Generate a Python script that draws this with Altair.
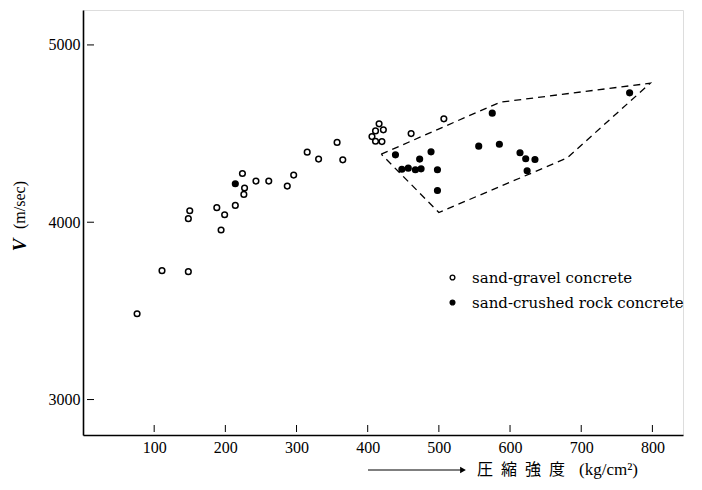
import altair as alt
import pandas as pd

# ---- data ----
gravel_x = [76, 111, 148, 148, 150, 194, 188, 199, 214, 224, 227, 226, 243, 261,
            287, 296, 315, 331, 357, 365, 406, 411, 416, 411, 420, 422, 461, 507]
gravel_v = [3484, 3727, 3721, 4020, 4065, 3956, 4082, 4042, 4095, 4275, 4193, 4157, 4232, 4232,
            4204, 4266, 4395, 4356, 4450, 4352, 4483, 4515, 4555, 4457, 4455, 4521, 4500, 4583]

crushed_x = [214, 439, 448, 457, 467, 475, 473, 489, 498, 498, 556, 575, 585, 614, 622, 635, 624, 768]
crushed_v = [4217, 4380, 4299, 4305, 4296, 4301, 4356, 4397, 4296, 4179, 4429, 4615, 4440, 4392,
             4358, 4354, 4290, 4730]

poly_x = [419, 586, 797, 680, 500, 419]
poly_v = [4384, 4677, 4784, 4362, 4055, 4384]

x_ticks = [100, 200, 300, 400, 500, 600, 700, 800]
y_ticks = [3000, 4000, 5000]

series_names = ["sand-gravel concrete", "sand-crushed rock concrete"]
x_title_chars = ["圧", "縮", "強", "度"]
x_title_unit = "(kg/cm²)"

W, H = 600, 425
SERIF = "Liberation Serif"

pts = pd.DataFrame({
    "x": gravel_x + crushed_x,
    "v": gravel_v + crushed_v,
    "type": [series_names[0]] * len(gravel_x) + [series_names[1]] * len(crushed_x),
})
poly = pd.DataFrame({"x": poly_x, "v": poly_v, "o": list(range(len(poly_x)))})

xs = alt.Scale(domain=[0, 843], nice=False, zero=False)
ys = alt.Scale(domain=[2800, 5197], nice=False, zero=False)

xax = alt.Axis(values=x_ticks, ticks=False, grid=False, labelFont=SERIF, labelFontSize=16, format="d",
               labelColor="black", labelPadding=4, domainColor="black", domainWidth=1.6, title=None)
yax = alt.Axis(values=y_ticks, ticks=False, grid=False, labelFont=SERIF, labelFontSize=16, format="d",
               labelColor="black", labelPadding=3, domainColor="black", domainWidth=1.6, title=None)

points = alt.Chart(pts).mark_point(filled=True, stroke="black", strokeWidth=1.5, size=32, shape="circle", opacity=1).encode(
    x=alt.X("x:Q", scale=xs, axis=xax),
    y=alt.Y("v:Q", scale=ys, axis=yax),
    fill=alt.Fill("type:N", scale=alt.Scale(domain=series_names, range=["white", "black"]),
                  legend=alt.Legend(orient="none", legendX=362, legendY=260, title=None,
                                    labelFont="DejaVu Serif", labelFontSize=15, labelColor="black",
                                    labelLimit=0,
                                    symbolType="circle", symbolSize=22, symbolStrokeColor="black",
                                    symbolStrokeWidth=1.4, rowPadding=9, labelOffset=12)),
)

outline = alt.Chart(poly).mark_line(color="black", strokeWidth=1.3, strokeDash=[7, 5]).encode(
    x=alt.X("x:Q", scale=xs), y=alt.Y("v:Q", scale=ys), order="o:Q")

xt = alt.Chart(pd.DataFrame({"t": x_ticks})).mark_rule(color="black", strokeWidth=1).encode(
    x=alt.X("t:Q", scale=xs), y=alt.value(H - 10), y2=alt.value(H - 3))
yt = alt.Chart(pd.DataFrame({"t": y_ticks})).mark_rule(color="black", strokeWidth=1).encode(
    y=alt.Y("t:Q", scale=ys), x=alt.value(4), x2=alt.value(11))

# axis titles
one = pd.DataFrame({"a": [0]})
v_lbl = alt.Chart(one).mark_text(text="V", font=SERIF, fontSize=19, fontStyle="italic", fontWeight="bold",
                                 angle=270, align="center", baseline="middle", color="black").encode(
    x=alt.value(-63), y=alt.value(235))
ms_lbl = alt.Chart(one).mark_text(text="(m/sec)", font=SERIF, fontSize=16, angle=270, align="center",
                                  baseline="middle", color="black").encode(x=alt.value(-63), y=alt.value(195))

TY = 460
arrow = alt.Chart(one).mark_rule(color="black", strokeWidth=1.2).encode(
    x=alt.value(285), x2=alt.value(378), y=alt.value(TY))
head = alt.Chart(one).mark_point(shape="triangle-right", filled=True, color="black", size=45, opacity=1).encode(
    x=alt.value(380), y=alt.value(TY))
jp_layers = [
    alt.Chart(one).mark_text(text=ch, font="Noto Sans CJK JP", fontSize=16, align="left",
                             baseline="middle", color="black").encode(x=alt.value(394 + 24 * i), y=alt.value(TY))
    for i, ch in enumerate(x_title_chars)
]
unit = alt.Chart(one).mark_text(text=x_title_unit, font=SERIF, fontSize=17, align="left",
                                baseline="middle", color="black").encode(x=alt.value(496), y=alt.value(TY))

chart = alt.layer(outline, points, xt, yt, v_lbl, ms_lbl, arrow, head, *jp_layers, unit).properties(
    width=W, height=H, autosize=alt.AutoSizeParams(type="none"),
    padding={"left": 75, "top": 2, "right": 11, "bottom": 47},
).configure_view(stroke=None).configure(background="white")

chart.save("out.html", embed_options={"renderer": "svg", "actions": False})
